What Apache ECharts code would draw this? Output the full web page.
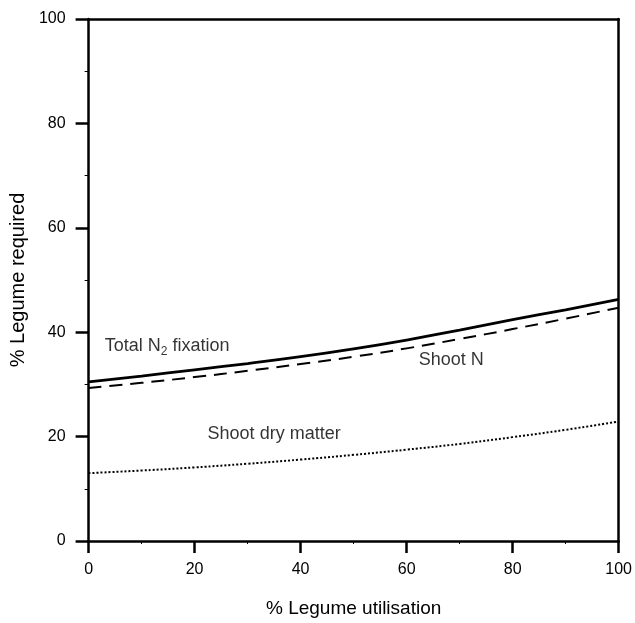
<!DOCTYPE html>
<html><head><meta charset="utf-8">
<script src="https://cdn.jsdelivr.net/npm/echarts@6/dist/echarts.min.js"></script>
<style>html,body{margin:0;padding:0;background:#fff}#c{width:635px;height:623px}</style>
</head><body><div id="c"></div>
<script>
const xValues = [0, 10, 20, 30, 40, 50, 60, 70, 80, 90, 100];
const totalN2 = [30.5, 31.6, 32.8, 34.0, 35.3, 36.8, 38.5, 40.4, 42.4, 44.3, 46.3];
const shootN = [29.3, 30.3, 31.4, 32.6, 33.9, 35.3, 36.9, 38.7, 40.6, 42.6, 44.7];
const shootDM = [13.0, 13.5, 14.1, 14.8, 15.6, 16.5, 17.5, 18.6, 19.9, 21.3, 22.9];
const xTicks = [0, 20, 40, 60, 80, 100];
const labels = [
  {name: 'Total N2 fixation', x: 14.8, y: 37.3},
  {name: 'Shoot N', x: 68.4, y: 34.6},
  {name: 'Shoot dry matter', x: 35, y: 20.4}
];
const font = '"Liberation Sans", Arial, sans-serif';
const pair = a => xValues.map((x, i) => [x, a[i]]);
const chart = echarts.init(document.getElementById('c'), null, {renderer: 'canvas'});
const axisCommon = {
  min: 0, max: 100, interval: 20,
  axisLine: {show: true, onZero: false, lineStyle: {color: '#000', width: 2.5}},
  splitLine: {show: false},
};
chart.setOption({
  animation: false,
  backgroundColor: '#fff',
  grid: {left: 86, right: 14, top: 19, bottom: 81},
  xAxis: [
    Object.assign({}, axisCommon, {
      type: 'value', position: 'bottom',
      axisTick: {show: true, length: 12, lineStyle: {color: '#000', width: 2.5}},
      minorTick: {show: true, splitNumber: 2, length: 3, lineStyle: {color: '#000', width: 1}},
      axisLabel: {color: '#000', fontSize: 16, fontFamily: font, margin: 21},
      name: '% Legume utilisation', nameLocation: 'middle', nameGap: 58,
      nameTextStyle: {color: '#000', fontSize: 19, fontFamily: font}
    }),
    Object.assign({}, axisCommon, {
      type: 'value', position: 'top',
      axisTick: {show: false}, axisLabel: {show: false}
    })
  ],
  yAxis: [
    Object.assign({}, axisCommon, {
      type: 'value', position: 'left',
      axisTick: {show: true, length: 13, lineStyle: {color: '#000', width: 2.5}},
      minorTick: {show: true, splitNumber: 2, length: 4, lineStyle: {color: '#000', width: 1}},
      axisLabel: {color: '#000', fontSize: 16, fontFamily: font, margin: 23},
      name: '% Legume required', nameLocation: 'middle', nameGap: 60,
      nameTextStyle: {color: '#000', fontSize: 20, fontFamily: font}
    }),
    Object.assign({}, axisCommon, {
      type: 'value', position: 'right',
      axisTick: {show: false}, axisLabel: {show: false}
    })
  ],
  series: [
    {type: 'line', name: 'Total N2 fixation', data: pair(totalN2), smooth: true, symbol: 'none',
     lineStyle: {color: '#000', width: 2.8, type: 'solid'}},
    {type: 'line', name: 'Shoot N', data: pair(shootN), smooth: true, symbol: 'none',
     lineStyle: {color: '#000', width: 2, type: [13, 8]}},
    {type: 'line', name: 'Shoot dry matter', data: pair(shootDM), smooth: true, symbol: 'none',
     lineStyle: {color: '#000', width: 2, type: [2, 2]}},
    {type: 'scatter', symbolSize: 0, silent: true,
     data: labels.map(l => ({value: [l.x, l.y], name: l.name})),
     label: {show: true, position: 'inside', color: '#000', fontSize: 18, fontFamily: font,
       formatter: p => p.name === 'Total N2 fixation' ? 'Total N{sub|2} fixation' : p.name,
       rich: {sub: {fontSize: 12, fontFamily: font, color: '#000', verticalAlign: 'bottom', padding: [10, 0, 0, 0]}}}
    }
  ]
});
</script></body></html>
